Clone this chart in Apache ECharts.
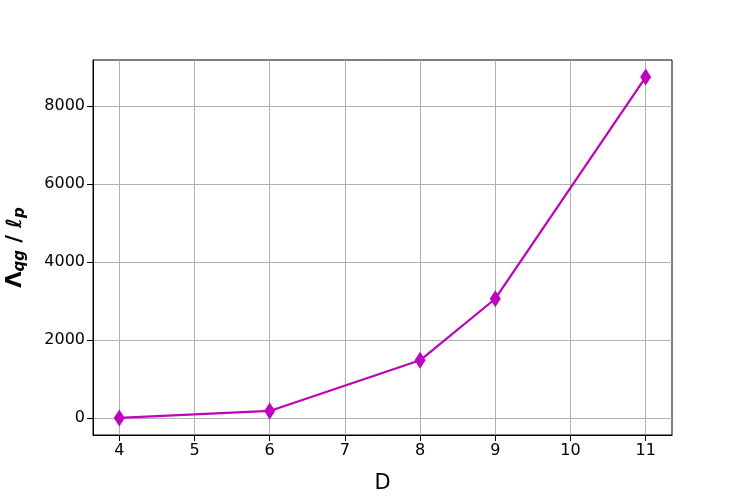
<!DOCTYPE html>
<html>
<head>
<meta charset="utf-8">
<script src="https://cdn.jsdelivr.net/npm/echarts@6/dist/echarts.min.js"></script>
<style>
  html, body { margin: 0; padding: 0; background: #fff; }
  #chart { width: 747px; height: 498px; }
</style>
</head>
<body>
<div id="chart"></div>
<script>
var dims = [4, 6, 8, 9, 11];
var lambdaValues = [0, 180, 1480, 3060, 8750];
var xTicks = [4, 5, 6, 7, 8, 9, 10, 11];
var yTicks = [0, 2000, 4000, 6000, 8000];

var chart = echarts.init(document.getElementById('chart'), null, { renderer: 'canvas' });
var magenta = '#bf00bf';
var font = 'DejaVu Sans';

var points = dims.map(function(d, i) { return [d, lambdaValues[i]]; });

var axisCommon = {
  axisLine: { show: true, onZero: false, lineStyle: { color: '#000', width: 1 } },
  axisTick: { show: true, length: 6, lineStyle: { color: '#000' } },
  axisLabel: { color: '#000', fontSize: 16, fontFamily: font, margin: 8 },
  splitLine: { show: true, lineStyle: { color: '#b0b0b0', width: 1 } }
};

chart.setOption({
  animation: false,
  backgroundColor: '#fff',
  grid: {
    left: 93, right: 75, top: 60, bottom: 63,
    containLabel: false, outerBoundsMode: 'none',
    show: true, borderColor: '#000', borderWidth: 1, backgroundColor: 'transparent'
  },
  xAxis: {
    type: 'value',
    min: 3.65,
    max: 11.35,
    name: 'D',
    nameLocation: 'middle',
    nameGap: 38,
    nameTextStyle: { color: '#000', fontSize: 21, fontFamily: font },
    axisLine: axisCommon.axisLine,
    axisTick: Object.assign({ customValues: xTicks }, axisCommon.axisTick),
    axisLabel: Object.assign({ customValues: xTicks, formatter: function(v) { return String(v); } }, axisCommon.axisLabel),
    splitLine: axisCommon.splitLine
  },
  yAxis: {
    type: 'value',
    min: -437.5,
    max: 9187.5,
    name: '{a|Λ}{s|qg}{a| / }{b|ℓ}{s|p}',
    nameLocation: 'middle',
    nameRotate: 90,
    nameGap: 65,
    nameTextStyle: {
      color: '#000',
      fontFamily: font,
      rich: {
        a: { fontSize: 21, fontFamily: font, fontWeight: 'bold', color: '#000' },
        b: { fontSize: 21, fontFamily: font, fontStyle: 'italic', fontWeight: 'bold', color: '#000' },
        s: { fontSize: 15, fontFamily: font, fontStyle: 'italic', fontWeight: 'bold', color: '#000', verticalAlign: 'bottom', padding: [10, 0, 0, 0] }
      }
    },
    axisLine: axisCommon.axisLine,
    axisTick: Object.assign({ customValues: yTicks }, axisCommon.axisTick),
    axisLabel: Object.assign({ customValues: yTicks, formatter: function(v) { return String(v); } }, axisCommon.axisLabel),
    splitLine: axisCommon.splitLine
  },
  series: [{
    type: 'line',
    data: points,
    symbol: 'diamond',
    symbolSize: [11, 17],
    itemStyle: { color: magenta },
    lineStyle: { color: magenta, width: 2.2 }
  }]
});
</script>
</body>
</html>
